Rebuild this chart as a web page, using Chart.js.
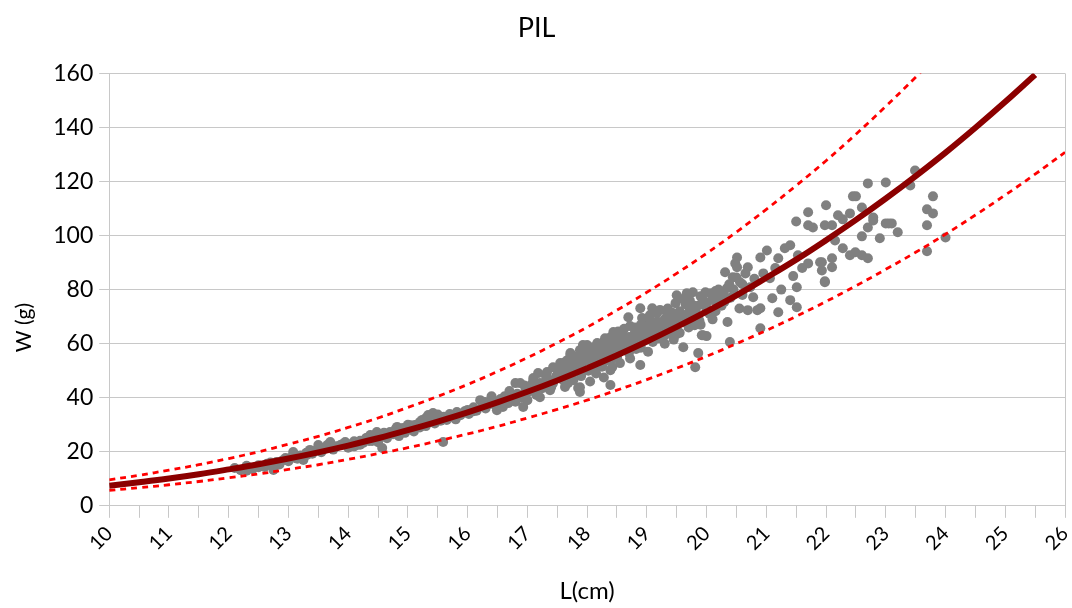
<!DOCTYPE html>
<html>
<head>
<meta charset="utf-8">
<script src="https://cdn.jsdelivr.net/npm/chart.js@4.4.1/dist/chart.umd.min.js"></script>
<style>
  html, body { margin: 0; padding: 0; background: #fff; }
  #wrap { width: 1072px; height: 608px; }
</style>
</head>
<body>
<div id="wrap"><canvas id="chart"></canvas></div>
<script>
// observed samples: length (cm) and weight (g)
const lengths = [
  12.1, 12.2, 12.3, 12.4, 12.5, 12.6, 12.64, 12.69, 12.75, 12.8, 12.85, 12.95, 13.0, 13.06, 13.08, 13.15,
  13.2, 13.25, 13.31, 13.36, 13.4, 13.48, 13.5, 13.55, 13.6, 13.65, 13.7, 13.75, 13.8, 13.87, 13.95, 14.0,
  14.05, 14.1, 14.15, 14.2, 14.25, 14.3, 14.32, 14.37, 14.4, 14.45, 14.48, 14.5, 14.57, 14.6, 14.65, 14.7,
  14.75, 14.8, 14.82, 14.85, 14.92, 14.95, 15.0, 15.05, 15.1, 15.12, 15.2, 15.24, 15.3, 15.34, 15.37, 15.42,
  15.45, 15.49, 15.55, 15.59, 15.6, 15.65, 15.7, 15.76, 15.82, 15.88, 15.95,
  16.02, 16.1, 16.15, 16.21, 16.29, 16.3, 16.35, 16.4, 16.46, 16.49, 16.55, 16.59, 16.62, 16.68, 16.76, 16.8,
  16.83, 16.88, 16.9, 16.93, 16.97, 17.0, 17.0, 17.05, 17.1, 17.1, 17.15, 17.18, 17.21, 17.21, 17.25, 17.3,
  17.33, 17.38, 17.43, 17.43, 17.48, 17.55,
  17.6, 17.63, 17.67, 17.68, 17.72, 17.72, 17.77, 17.8, 17.83, 17.85, 17.88, 17.88, 17.88, 17.9, 17.93, 17.95,
  18.0, 18.0, 18.02, 18.05, 18.1, 18.12, 18.15, 18.17, 18.2, 18.22, 18.25, 18.28, 18.3, 18.33, 18.35, 18.39,
  18.39, 18.4, 18.42, 18.44, 18.45, 18.5, 18.52, 18.55, 18.55, 18.6, 18.62, 18.65, 18.69, 18.7, 18.72, 18.75,
  18.8, 18.82, 18.85, 18.89, 18.89, 18.9, 18.95, 19.0, 19.02, 19.05, 19.09, 19.1, 19.12, 19.17, 19.2, 19.22,
  19.25, 19.3, 19.34, 19.38, 19.44, 19.45, 19.5, 19.5,
  19.55, 19.6, 19.61, 19.67, 19.7, 19.72, 19.77, 19.8, 19.81, 19.85, 19.86, 19.9, 19.92, 19.94, 19.95, 20.0,
  20.0, 20.06, 20.1, 20.11, 20.15, 20.2, 20.25, 20.31, 20.34, 20.35, 20.39, 20.4, 20.44, 20.48, 20.51, 20.51,
  20.55, 20.56, 20.6, 20.65, 20.69, 20.69, 20.73, 20.78, 20.8, 20.85, 20.9, 20.9, 20.9, 20.95, 21.01, 21.06, 21.1,
  21.15, 21.2, 21.2, 21.25, 21.31, 21.4, 21.4, 21.45, 21.5, 21.51, 21.51, 21.53, 21.6, 21.7, 21.7, 21.7,
  21.78, 21.9, 21.93, 21.93, 21.98, 21.98, 21.98, 22.0, 22.1, 22.1, 22.1, 22.15, 22.2, 22.28, 22.28, 22.4,
  22.4, 22.45, 22.49, 22.5, 22.6, 22.6, 22.6, 22.7, 22.7, 22.7, 22.79, 22.79, 22.9, 23.0, 23.0, 23.05,
  23.1, 23.2, 23.41, 23.49, 23.69, 23.69, 23.69, 23.79, 23.79, 24.0,
  17.5, 17.58, 17.65, 17.7, 17.75, 17.82, 17.9, 17.98, 18.05, 18.1, 18.18, 18.25, 18.32, 18.38, 18.45, 18.48,
  18.58, 18.65, 18.7, 18.78, 18.85, 18.92, 18.98, 19.05, 19.08, 19.15, 19.2, 19.28, 19.32, 19.4, 19.42, 19.48,
  19.55, 19.62, 19.65, 19.75, 19.82, 19.88, 20.0, 20.05, 20.2, 20.28, 20.45, 20.6,
  14.1, 14.35, 14.55, 14.9, 15.15, 15.4, 15.7, 16.0, 16.25, 16.5, 16.7, 16.85, 17.05, 17.2, 17.35,
  17.55, 17.62, 17.7, 17.78, 17.85, 17.92, 18.0, 18.08, 18.15, 18.2, 18.28, 18.35, 18.4, 18.48, 18.52, 18.6,
  18.68, 18.72, 18.8, 18.88, 18.92, 19.0, 19.05, 19.1, 19.15, 19.22, 19.3, 19.35, 19.4, 19.48, 19.52, 19.6,
  19.68, 19.72, 19.8, 19.9, 19.98, 20.1, 20.15, 20.3, 20.38, 20.5, 18.1, 18.3, 18.5, 18.7, 18.9, 19.1,
  19.3, 19.5, 19.7, 19.9, 17.3, 17.4, 17.6, 16.95, 16.7, 16.4,
  12.3, 12.5, 12.7, 12.9, 13.1, 13.3, 13.5, 13.7, 13.9, 14.2, 14.4, 14.6, 14.8, 15.0, 15.2, 15.3,
  15.5, 15.8, 16.1, 16.3, 16.6, 16.8
];
const weights = [
  14.0, 13.2, 14.8, 13.6, 15.0, 14.4, 15.6, 15.1, 13.3, 16.2, 15.3, 17.7, 16.5, 18.1, 19.9, 17.4,
  18.6, 17.0, 18.8, 20.7, 19.3, 20.7, 22.5, 19.8, 21.0, 22.5, 23.6, 20.8, 22.0, 22.5, 23.6, 21.5,
  22.8, 23.9, 22.5, 24.1, 23.3, 25.1, 25.1, 26.2, 24.0, 25.5, 27.3, 23.5, 21.4, 26.0, 25.0, 27.3,
  26.5, 28.6, 29.2, 25.8, 28.8, 27.0, 28.2, 29.8, 27.5, 29.9, 31.0, 31.8, 29.5, 33.6, 32.5, 34.3,
  30.5, 32.9, 31.5, 23.6, 33.0, 31.8, 34.0, 32.9, 34.7, 33.5, 35.0,
  34.0, 36.5, 35.2, 39.1, 38.4, 36.0, 37.5, 38.8, 37.3, 35.4, 39.5, 36.6, 40.5, 38.0, 39.1, 45.4,
  41.5, 45.4, 40.0, 36.6, 43.0, 42.1, 39.1, 44.5, 46.5, 47.3, 41.0, 49.1, 45.4, 40.2, 43.5, 46.0,
  49.5, 42.8, 51.3, 45.4, 47.8, 52.8,
  49.0, 44.0, 53.9, 45.4, 55.8, 56.5, 46.5, 50.5, 51.3, 43.6, 57.6, 42.1, 43.9, 48.0, 59.5, 53.5,
  59.5, 55.0, 50.0, 46.0, 58.7, 53.0, 49.0, 60.2, 56.0, 59.5, 51.5, 47.5, 62.0, 61.3, 57.0, 44.7,
  50.2, 54.0, 51.3, 64.3, 59.0, 62.0, 56.5, 63.9, 52.8, 60.0, 65.5, 57.5, 69.8, 62.5, 54.5, 60.5,
  66.0, 58.0, 63.5, 73.1, 52.1, 67.0, 61.0, 64.5, 57.0, 68.5, 73.1, 60.6, 65.0, 71.3, 62.0, 65.0,
  67.5, 60.0, 70.5, 64.0, 69.8, 61.5, 77.9, 67.0,
  64.0, 70.5, 58.7, 78.7, 66.0, 73.0, 79.0, 66.8, 51.3, 70.0, 56.5, 74.5, 63.1, 63.1, 76.0, 62.8,
  72.4, 78.7, 69.0, 76.1, 72.0, 80.0, 74.0, 86.4, 80.5, 68.0, 60.6, 77.0, 84.6, 89.7, 91.9, 88.3,
  73.0, 82.7, 78.0, 86.0, 88.3, 72.4, 80.9, 77.2, 84.0, 72.4, 91.9, 73.1, 65.7, 86.0, 94.5, 84.2, 76.8,
  88.0, 91.6, 71.6, 80.0, 95.3, 96.4, 76.1, 85.0, 105.2, 80.9, 73.5, 92.7, 88.0, 108.6, 89.7, 103.8,
  103.0, 90.1, 87.1, 90.1, 82.7, 83.1, 103.8, 111.2, 103.8, 91.6, 88.3, 98.2, 107.5, 106.0, 95.3, 108.2,
  92.7, 114.5, 93.8, 114.5, 110.4, 99.7, 92.7, 119.3, 103.0, 91.6, 106.7, 105.6, 99.0, 119.6, 104.5, 104.5,
  104.5, 101.2, 118.5, 124.1, 109.7, 103.8, 94.2, 114.5, 108.2, 99.3,
  48.5, 51.0, 47.5, 52.0, 49.5, 54.0, 52.0, 56.5, 53.5, 55.5, 52.5, 58.0, 55.0, 59.5, 56.0, 60.5,
  58.5, 61.5, 58.5, 63.0, 60.0, 64.0, 62.0, 62.5, 66.5, 63.5, 68.0, 65.5, 67.0, 66.5, 71.5, 69.0,
  72.0, 68.0, 74.5, 70.5, 72.5, 68.5, 75.0, 71.0, 76.5, 78.0, 80.0, 82.0,
  22.0, 24.0, 25.5, 27.8, 30.0, 31.2, 33.0, 35.5, 36.8, 38.2, 40.5, 41.0, 42.5, 44.5, 46.8,
  50.5, 53.0, 50.0, 52.5, 55.5, 50.5, 57.5, 56.0, 58.5, 54.0, 60.5, 59.0, 62.5, 58.0, 64.5, 62.5,
  60.0, 66.5, 64.0, 62.0, 69.5, 66.5, 70.5, 64.0, 68.0, 72.5, 69.0, 73.0, 68.5, 75.0, 70.0, 76.5,
  71.0, 76.0, 74.0, 77.5, 79.0, 77.0, 79.5, 75.5, 82.0, 84.5, 50.5, 53.5, 55.0, 56.5, 58.5, 61.5,
  63.0, 63.5, 67.5, 67.0, 48.5, 44.0, 46.5, 44.5, 42.5, 40.5,
  13.0, 14.3, 16.0, 16.8, 17.8, 19.6, 20.5, 21.8, 22.8, 22.6, 25.6, 27.0, 26.8, 30.0, 29.0, 32.5,
  33.8, 32.0, 35.0, 37.0, 38.0, 38.5
];

// fitted curve and its upper / lower band, read every 0.5 cm
const fitL = [10, 10.5, 11, 11.5, 12, 12.5, 13, 13.5, 14, 14.5, 15, 15.5, 16, 16.5, 17, 17.5,
  18, 18.5, 19, 19.5, 20, 20.5, 21, 21.5, 22, 22.5, 23, 23.5, 24, 24.5, 25, 25.5];
const fitW = [7.4, 8.7, 10.1, 11.7, 13.5, 15.4, 17.5, 19.8, 22.3, 25.0, 28.0, 31.2, 34.6, 38.3, 42.2, 46.4,
  50.9, 55.7, 60.8, 66.2, 71.9, 77.9, 84.4, 91.1, 98.3, 105.8, 113.7, 122.0, 130.7, 139.9, 149.5, 159.5];

const upperL = [10, 10.5, 11, 11.5, 12, 12.5, 13, 13.5, 14, 14.5, 15, 15.5, 16, 16.5, 17, 17.5,
  18, 18.5, 19, 19.5, 20, 20.5, 21, 21.5, 22, 22.5, 23, 23.5, 24];
const upperW = [9.6, 11.3, 13.2, 15.2, 17.5, 20.0, 22.8, 25.7, 29.0, 32.5, 36.4, 40.5, 44.9, 49.7, 54.8, 60.3,
  66.1, 72.4, 79.0, 86.0, 93.4, 101.3, 109.7, 118.5, 127.7, 137.5, 147.8, 158.6, 169.9];

const lowerL = [10, 10.5, 11, 11.5, 12, 12.5, 13, 13.5, 14, 14.5, 15, 15.5, 16, 16.5, 17, 17.5,
  18, 18.5, 19, 19.5, 20, 20.5, 21, 21.5, 22, 22.5, 23, 23.5, 24, 24.5, 25, 25.5, 26];
const lowerW = [5.7, 6.7, 7.8, 9.0, 10.4, 11.8, 13.5, 15.2, 17.2, 19.3, 21.5, 24.0, 26.6, 29.4, 32.5, 35.7,
  39.1, 42.8, 46.7, 50.9, 55.3, 60.0, 64.9, 70.1, 75.6, 81.4, 87.5, 93.8, 100.5, 107.6, 115.0, 122.7, 130.8];

const chartTitle = "PIL";
const xTitle = "L(cm)";
const yTitle = "W (g)";

function toPoints(xs, ys) {
  return xs.map((x, i) => ({ x: x, y: ys[i] }));
}

const FONT = "Lato, 'Open Sans', sans-serif";
const GRID = "#c8c8c8";

// the y title sits a bit below the middle of the plot in the original
const yTitlePlugin = {
  id: "yTitleLow",
  afterDraw(chart) {
    const { ctx, chartArea } = chart;
    const yScale = chart.scales.y;
    ctx.save();
    ctx.font = "21px " + FONT;
    ctx.fillStyle = "#000";
    ctx.textAlign = "center";
    ctx.textBaseline = "middle";
    ctx.translate(yScale.left + 16, (chartArea.top + chartArea.bottom) / 2 + 38);
    ctx.rotate(-Math.PI / 2);
    ctx.fillText(yTitle, 0, 0);
    ctx.restore();
  }
};

new Chart(document.getElementById("chart"), {
  type: "scatter",
  data: {
    datasets: [
      {
        label: "fit",
        type: "line",
        data: toPoints(fitL, fitW),
        borderColor: "#8b0000",
        borderWidth: 6,
        pointRadius: 0,
        tension: 0.4,
        fill: false,
        order: 1
      },
      {
        label: "upper",
        type: "line",
        data: toPoints(upperL, upperW),
        borderColor: "#ff0000",
        borderWidth: 2.8,
        borderDash: [6, 5],
        pointRadius: 0,
        tension: 0.4,
        fill: false,
        order: 2
      },
      {
        label: "lower",
        type: "line",
        data: toPoints(lowerL, lowerW),
        borderColor: "#ff0000",
        borderWidth: 2.8,
        borderDash: [6, 5],
        pointRadius: 0,
        tension: 0.4,
        fill: false,
        order: 2
      },
      {
        label: "obs",
        data: toPoints(lengths, weights),
        backgroundColor: "#808080",
        borderWidth: 0,
        pointRadius: 5,
        order: 3
      }
    ]
  },
  plugins: [yTitlePlugin],
  options: {
    responsive: true,
    maintainAspectRatio: false,
    animation: false,
    events: [],
    layout: { padding: { left: 8, right: 7, top: 6, bottom: 2 } },
    plugins: {
      legend: { display: false },
      tooltip: { enabled: false },
      title: {
        display: true,
        text: chartTitle,
        color: "#000",
        font: { family: FONT, size: 27, weight: "normal" },
        padding: { top: 6, bottom: 29 }
      }
    },
    scales: {
      x: {
        type: "linear",
        min: 10,
        max: 26,
        afterBuildTicks: axis => {
          const t = [];
          for (let v = 10; v <= 26; v += 0.5) t.push({ value: v });
          axis.ticks = t;
        },
        afterFit: axis => {
          axis.paddingRight = 0;
        },
        ticks: {
          autoSkip: false,
          maxRotation: 45,
          minRotation: 45,
          color: "#000",
          padding: 4,
          font: { family: FONT, size: 20 },
          callback: v => (Number.isInteger(v) ? String(v) : "")
        },
        grid: {
          color: c => (c.tick && (c.tick.value === 10 || c.tick.value === 26) ? GRID : "rgba(0,0,0,0)"),
          tickColor: GRID,
          tickLength: 12,
          lineWidth: 1
        },
        border: { display: false },
        title: {
          display: true,
          text: xTitle,
          color: "#000",
          font: { family: FONT, size: 24 },
          padding: { top: 18, bottom: 0 }
        }
      },
      y: {
        min: 0,
        max: 160,
        ticks: {
          stepSize: 20,
          color: "#000",
          padding: 6,
          font: { family: FONT, size: 23 }
        },
        grid: {
          color: GRID,
          tickColor: GRID,
          tickLength: 10,
          lineWidth: 1
        },
        border: { display: false },
        title: {
          // keeps the room for the title; the text itself is drawn by yTitlePlugin
          display: true,
          text: yTitle,
          color: "rgba(0,0,0,0)",
          font: { family: FONT, size: 21 },
          padding: { top: 0, bottom: 14 }
        }
      }
    }
  }
});
</script>
</body>
</html>
